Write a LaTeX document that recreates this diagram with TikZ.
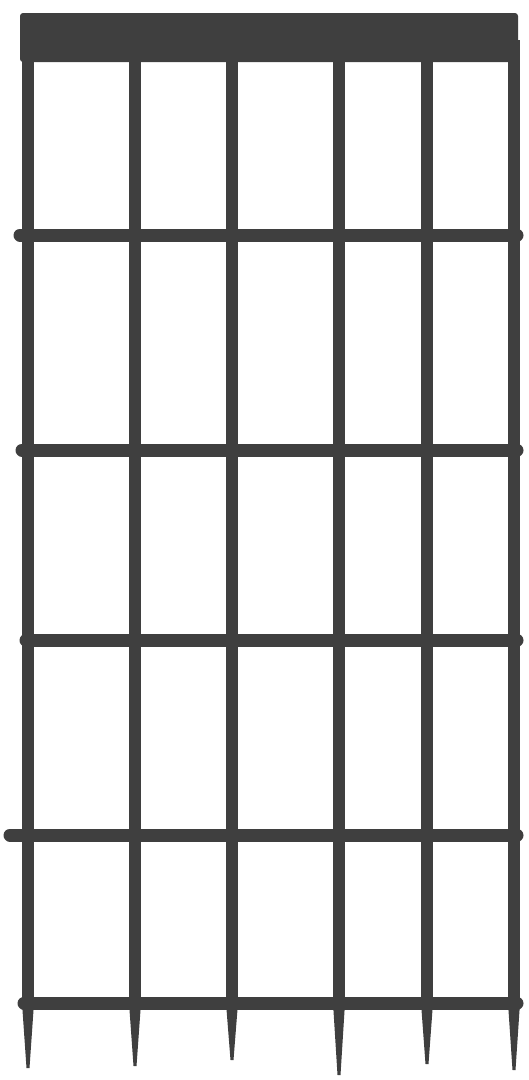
\documentclass[tikz,border=0pt]{standalone}
\usepackage{xcolor}
\usetikzlibrary{calc}
\definecolor{ink}{HTML}{3f3f3f}

\begin{document}
\begin{tikzpicture}[x=1pt, y=-1pt,
  stringline/.style={draw=ink, line width=12pt},
  fretline/.style={draw=ink, line width=13pt, line cap=round},
  nutbar/.style={fill=ink, rounded corners=3pt},
  tip/.style={fill=ink}]
  \useasboundingbox (0,0) rectangle (529,1080);
  % strings
  \foreach \n/\x/\e in {1/28/1068, 2/135/1066, 3/232/1060, 4/339/1075, 5/427/1064, 6/514/1070} {
    \coordinate (s\n top) at (\x,40);
    \coordinate (s\n bot) at (\x,1003);
    \draw[stringline] (s\n top) -- (s\n bot);
    \fill[tip] ($(s\n bot)+(-6,0)$) -- ($(s\n bot)+(6,0)$) -- (\x+1.5,\e) -- (\x-1.5,\e) -- cycle;
  }
  % nut
  \fill[nutbar] (20,13) rectangle (518,62);
  % frets
  \foreach \n/\y/\l in {1/235/20, 2/450/22, 3/640/26, 4/835/10, 5/1003/24}
    \draw[fretline] (\l,\y) coordinate (f\n a) -- (517,\y) coordinate (f\n b);
\end{tikzpicture}
\end{document}
